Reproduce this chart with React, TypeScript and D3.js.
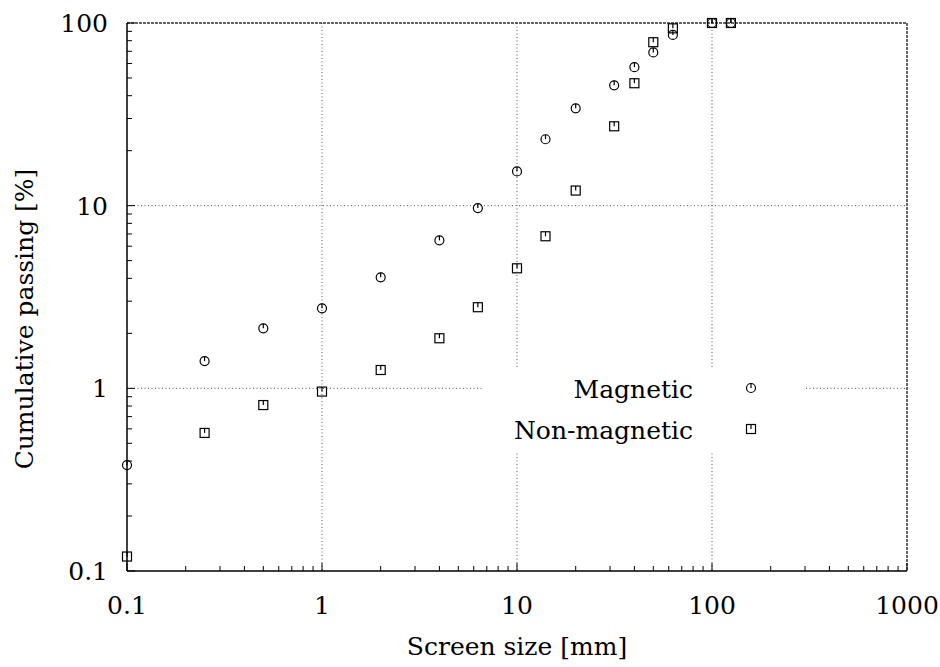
import React from 'react'
import * as d3 from 'd3'

// sieve sizes (mm) and cumulative passing (%)
const screenSizes = [0.1, 0.25, 0.5, 1, 2, 4, 6.3, 10, 14, 20, 31.5, 40, 50, 63, 100, 125]
const magnetic = [0.38, 1.41, 2.13, 2.74, 4.05, 6.46, 9.7, 15.4, 23.1, 34.1, 45.6, 57.3, 69, 86, 100, 100]
const nonMagnetic = [0.12, 0.57, 0.81, 0.96, 1.26, 1.88, 2.78, 4.54, 6.8, 12.1, 27.2, 46.8, 78.5, 93.5, 100, 100]
const xTicks = [0.1, 1, 10, 100, 1000]
const yTicks = [0.1, 1, 10, 100]
const xTickLabels = ['0.1', '1', '10', '100', '1000']
const yTickLabels = ['0.1', '1', '10', '100']

const W = 940
const H = 667
const left = 127
const right = 907
const top = 23
const bottom = 571
const font = '"DejaVu Serif", "Liberation Serif", serif'
const fs = 25

function minorTicks(lo: number, hi: number) {
  const out: number[] = []
  for (let d = lo; d < hi; d *= 10) {
    for (let k = 2; k <= 9; k++) out.push(d * k)
  }
  return out
}

function Circle({ x, y }: { x: number; y: number }) {
  return (
    <g>
      <circle cx={x} cy={y} r={4.5} fill="none" stroke="#000" strokeWidth={1.2} />
      <line x1={x} y1={y} x2={x} y2={y - 4.5} stroke="#000" strokeWidth={1.2} />
    </g>
  )
}

function Square({ x, y }: { x: number; y: number }) {
  return (
    <g>
      <rect x={x - 4.5} y={y - 4.5} width={9} height={9} fill="none" stroke="#000" strokeWidth={1.2} />
      <line x1={x} y1={y} x2={x} y2={y - 4.5} stroke="#000" strokeWidth={1.2} />
    </g>
  )
}

export default function App() {
  const x = d3.scaleLog().domain([0.1, 1000]).range([left, right])
  const y = d3.scaleLog().domain([0.1, 100]).range([bottom, top])

  const legendX = 751
  const legendY1 = 388
  const legendY2 = 429

  return (
    <svg width={W} height={H} style={{ position: 'absolute', left: 0, top: 0, background: '#fff' }}>
      {/* grid */}
      {xTicks.slice(1, -1).map(t => (
        <line key={'gx' + t} x1={x(t)} x2={x(t)} y1={top} y2={bottom}
          stroke="#555" strokeWidth={1} strokeDasharray="1,2.5" />
      ))}
      {yTicks.slice(1, -1).map(t => (
        <line key={'gy' + t} x1={left} x2={right} y1={y(t)} y2={y(t)}
          stroke="#555" strokeWidth={1} strokeDasharray="1,2.5" />
      ))}

      {/* frame */}
      <line x1={left} x2={right} y1={top} y2={top} stroke="#333" strokeWidth={1.5} strokeDasharray="3,1" />
      <line x1={right} x2={right} y1={top} y2={bottom} stroke="#333" strokeWidth={1.5} strokeDasharray="3,1" />
      <line x1={left} x2={right} y1={bottom} y2={bottom} stroke="#000" strokeWidth={1.5} />
      <line x1={left} x2={left} y1={top} y2={bottom} stroke="#000" strokeWidth={1.5} />

      {/* ticks */}
      {minorTicks(0.1, 1000).map(t => (
        <line key={'mx' + t} x1={x(t)} x2={x(t)} y1={bottom} y2={bottom - 5} stroke="#000" strokeWidth={1} />
      ))}
      {minorTicks(0.1, 100).map(t => (
        <line key={'my' + t} x1={left} x2={left + 5} y1={y(t)} y2={y(t)} stroke="#000" strokeWidth={1} />
      ))}
      {xTicks.map(t => (
        <line key={'Mx' + t} x1={x(t)} x2={x(t)} y1={bottom} y2={bottom - 8} stroke="#000" strokeWidth={1} />
      ))}
      {yTicks.map(t => (
        <line key={'My' + t} x1={left} x2={left + 8} y1={y(t)} y2={y(t)} stroke="#000" strokeWidth={1} />
      ))}

      {/* tick labels */}
      {xTicks.map((t, i) => (
        <text key={'lx' + t} x={x(t)} y={614} textAnchor="middle" fontFamily={font} fontSize={fs}>
          {xTickLabels[i]}
        </text>
      ))}
      {yTicks.map((t, i) => (
        <text key={'ly' + t} x={108} y={y(t) + 9} textAnchor="end" fontFamily={font} fontSize={fs}>
          {yTickLabels[i]}
        </text>
      ))}

      {/* axis titles */}
      <text x={(left + right) / 2} y={655} textAnchor="middle" fontFamily={font} fontSize={fs}>
        Screen size [mm]
      </text>
      <text transform={`translate(33,319) rotate(-90)`} textAnchor="middle" fontFamily={font} fontSize={fs}>
        Cumulative passing [%]
      </text>

      {/* legend */}
      <rect x={482} y={367} width={324} height={84} fill="#fff" />
      <text x={693} y={398} textAnchor="end" fontFamily={font} fontSize={fs}>Magnetic</text>
      <text x={693} y={439} textAnchor="end" fontFamily={font} fontSize={fs}>Non-magnetic</text>
      <Circle x={legendX} y={legendY1} />
      <Square x={legendX} y={legendY2} />

      {/* data */}
      {screenSizes.map((s, i) => (
        <Circle key={'m' + i} x={x(s)} y={y(magnetic[i])} />
      ))}
      {screenSizes.map((s, i) => (
        <Square key={'n' + i} x={x(s)} y={y(nonMagnetic[i])} />
      ))}
    </svg>
  )
}
